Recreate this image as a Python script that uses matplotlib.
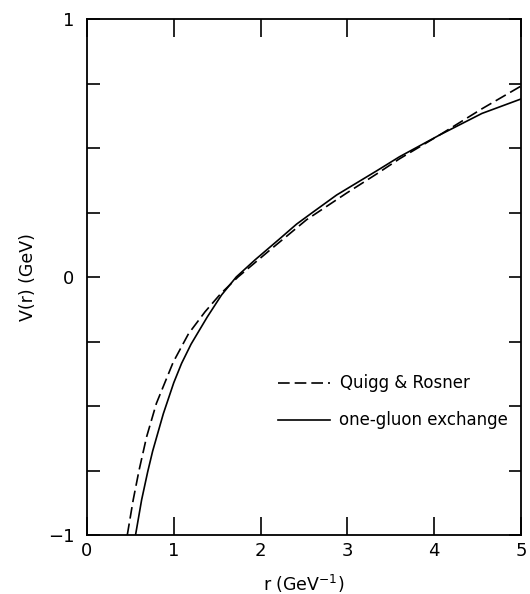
import matplotlib.pyplot as plt
import numpy as np

# valores (r em GeV^-1, V em GeV)
r_qr = [0.465, 0.533, 0.60, 0.687, 0.80, 0.994, 1.17, 1.36, 1.54, 1.74, 2.11, 2.53, 2.99, 3.34, 3.6, 4.06, 4.55, 5.0]
v_qr = [-1.0, -0.864, -0.75, -0.62, -0.49, -0.33, -0.22, -0.135, -0.065, 0.0, 0.105, 0.222, 0.325, 0.40, 0.458, 0.55, 0.652, 0.74]

r_og = [0.56, 0.63, 0.70, 0.757, 0.88, 1.0, 1.09, 1.2, 1.386, 1.55, 1.72, 1.935, 2.22, 2.415, 2.61, 2.877, 3.34, 3.6, 4.06, 4.55, 5.0]
v_og = [-1.0, -0.864, -0.755, -0.675, -0.53, -0.41, -0.335, -0.26, -0.155, -0.07, 0.0, 0.066, 0.148, 0.205, 0.253, 0.318, 0.412, 0.466, 0.55, 0.634, 0.69]

x_ticks = [0, 1, 2, 3, 4, 5]
y_labels = {-1.0: '\u22121', 0.0: '0', 1.0: '1'}

plt.rcParams['font.family'] = ['DejaVu Sans']

fig = plt.figure(figsize=(5.30, 5.94), dpi=100)
ax = fig.add_axes([0.164, 0.0993, 0.819, 0.8687])

tracejado = (0, (7, 3))
ax.plot(r_qr, v_qr, color='black', lw=1.2, linestyle=tracejado)
ax.plot(r_og, v_og, color='black', lw=1.2)

ax.set_xlim(0, 5)
ax.set_ylim(-1, 1)

ax.set_xticks(x_ticks)
ax.set_xticklabels([str(t) for t in x_ticks], fontsize=13)
yt = np.arange(-1, 1.01, 0.25)
ax.set_yticks(yt)
ax.set_yticklabels([y_labels.get(round(v, 2), '') for v in yt], fontsize=13)
ax.tick_params(axis='x', direction='in', length=13, width=1.2, top=True, pad=5)
ax.tick_params(axis='y', direction='in', length=9, width=1.2, right=True, pad=9)
for s in ax.spines.values():
    s.set_linewidth(1.3)

ax.set_xlabel('r (GeV$^{-1}$)', fontsize=12.5, labelpad=9)
ax.set_ylabel('V(r) (GeV)', fontsize=12.5, labelpad=8)

# legenda desenhada à mão, como no original
ax.plot([2.2, 2.8], [-0.41, -0.41], color='black', lw=1.2, linestyle=tracejado)
ax.text(2.92, -0.41, 'Quigg & Rosner', fontsize=12, va='center', ha='left')
ax.plot([2.2, 2.8], [-0.555, -0.555], color='black', lw=1.2)
ax.text(2.9, -0.555, 'one-gluon exchange', fontsize=12, va='center', ha='left')

plt.savefig('out.png', dpi=100)
